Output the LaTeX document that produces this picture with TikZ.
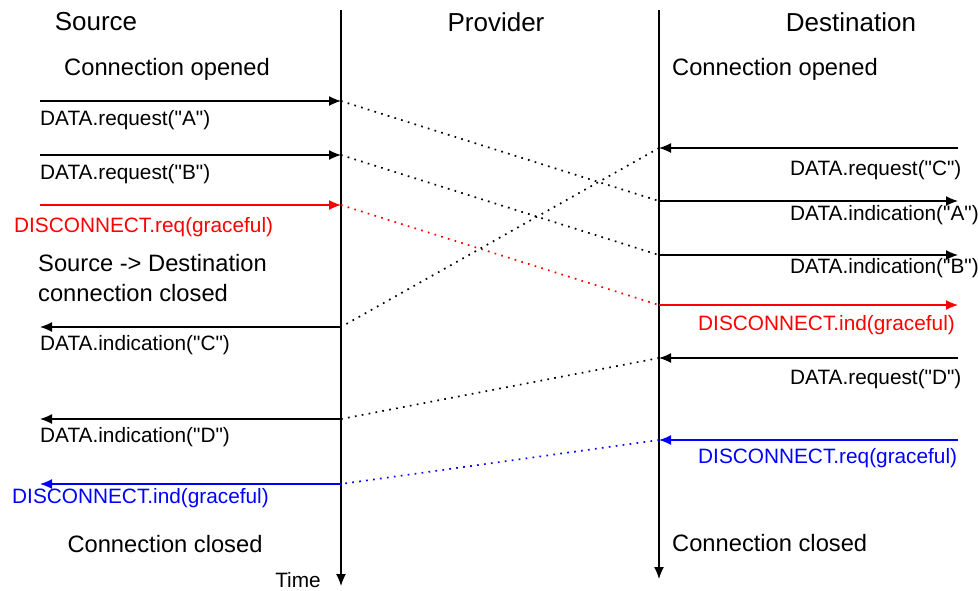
\documentclass[tikz,border=0pt]{standalone}
\usepackage{fontspec}
\setmainfont{Liberation Sans}[Ligatures=TeXOff]
\usetikzlibrary{arrows.meta}

\begin{document}
\begin{tikzpicture}
      [
      x=1pt,y=-1pt,
      lifeline/.style={line width=1.3pt,-{Latex[length=12pt,width=10pt]}},
      msg/.style={line width=1.3pt,-{Latex[length=12pt,width=10pt]}},
      transit/.style={line width=1.7pt,dash pattern=on 1.7pt off 5.3pt},
      title/.style={font=\fontsize{26}{28}\selectfont,inner sep=0pt},
      note/.style={font=\fontsize{23.7}{30}\selectfont,inner sep=0pt,align=left},
      prim/.style={font=\fontsize{20.8}{23}\selectfont,inner sep=0pt}
      ]
      \useasboundingbox (0,0) rectangle (978,590);
      % lifelines
      \coordinate (srcTop) at (341,10);
      \coordinate (srcEnd) at (341,586);
      \coordinate (dstTop) at (659,10);
      \coordinate (dstEnd) at (659,579);
      \draw [lifeline] (srcTop) -- (srcEnd);
      \draw [lifeline] (dstTop) -- (dstEnd);
      \node (source) at (96,22) [title] {Source};
      \node (provider) at (496,22) [title] {Provider};
      \node (destination) at (851,22) [title] {Destination};
      \node (time) at (298,580) [prim] {Time};
      \node (srcOpen) at (167,69) [note] {Connection opened};
      \node (dstOpen) at (672,69) [note,anchor=west] {Connection opened};
      \node (srcHalf) at (38,278) [note,anchor=west] {Source -> Destination\\connection closed};
      \node (srcClose) at (165,544) [note] {Connection closed};
      \node (dstClose) at (672,543) [note,anchor=west] {Connection closed};
      % message A
      \coordinate (a0) at (40,101);
      \coordinate (a1) at (341,101);
      \coordinate (a2) at (659,201);
      \coordinate (a3) at (958,201);
      \draw [msg] (a0) -- (a1);
      \draw [transit] (a1) -- (a2);
      \draw [msg] (a2) -- (a3);
      \node (reqA) at (40,120) [prim,anchor=west] {DATA.request("A")};
      \node (indA) at (790,215) [prim,anchor=west] {DATA.indication("A")};
      % message B
      \coordinate (b0) at (40,155);
      \coordinate (b1) at (341,155);
      \coordinate (b2) at (659,255);
      \coordinate (b3) at (958,255);
      \draw [msg] (b0) -- (b1);
      \draw [transit] (b1) -- (b2);
      \draw [msg] (b2) -- (b3);
      \node (reqB) at (40,174) [prim,anchor=west] {DATA.request("B")};
      \node (indB) at (790,268) [prim,anchor=west] {DATA.indication("B")};
      % source disconnect
      \coordinate (x0) at (40,205);
      \coordinate (x1) at (341,205);
      \coordinate (x2) at (659,305);
      \coordinate (x3) at (958,305);
      \draw [msg,red] (x0) -- (x1);
      \draw [transit,red] (x1) -- (x2);
      \draw [msg,red] (x2) -- (x3);
      \node (discReqSrc) at (14,227) [prim,anchor=west,red] {DISCONNECT.req(graceful)};
      \node (discIndDst) at (698,325) [prim,anchor=west,red] {DISCONNECT.ind(graceful)};
      % message C
      \coordinate (c0) at (958,148);
      \coordinate (c1) at (659,148);
      \coordinate (c2) at (341,327);
      \coordinate (c3) at (40,327);
      \draw [msg] (c0) -- (c1);
      \draw [transit] (c1) -- (c2);
      \draw [msg] (c2) -- (c3);
      \node (reqC) at (790,170) [prim,anchor=west] {DATA.request("C")};
      \node (indC) at (40,345) [prim,anchor=west] {DATA.indication("C")};
      % message D
      \coordinate (d0) at (958,358);
      \coordinate (d1) at (659,358);
      \coordinate (d2) at (341,419);
      \coordinate (d3) at (40,419);
      \draw [msg] (d0) -- (d1);
      \draw [transit] (d1) -- (d2);
      \draw [msg] (d2) -- (d3);
      \node (reqD) at (790,379) [prim,anchor=west] {DATA.request("D")};
      \node (indD) at (40,437) [prim,anchor=west] {DATA.indication("D")};
      % destination disconnect
      \coordinate (y0) at (958,440);
      \coordinate (y1) at (659,440);
      \coordinate (y2) at (341,484);
      \coordinate (y3) at (40,484);
      \draw [msg,blue] (y0) -- (y1);
      \draw [transit,blue] (y1) -- (y2);
      \draw [msg,blue] (y2) -- (y3);
      \node (discReqDst) at (698,458) [prim,anchor=west,blue] {DISCONNECT.req(graceful)};
      \node (discIndSrc) at (12,498) [prim,anchor=west,blue] {DISCONNECT.ind(graceful)};
\end{tikzpicture}
\end{document}
